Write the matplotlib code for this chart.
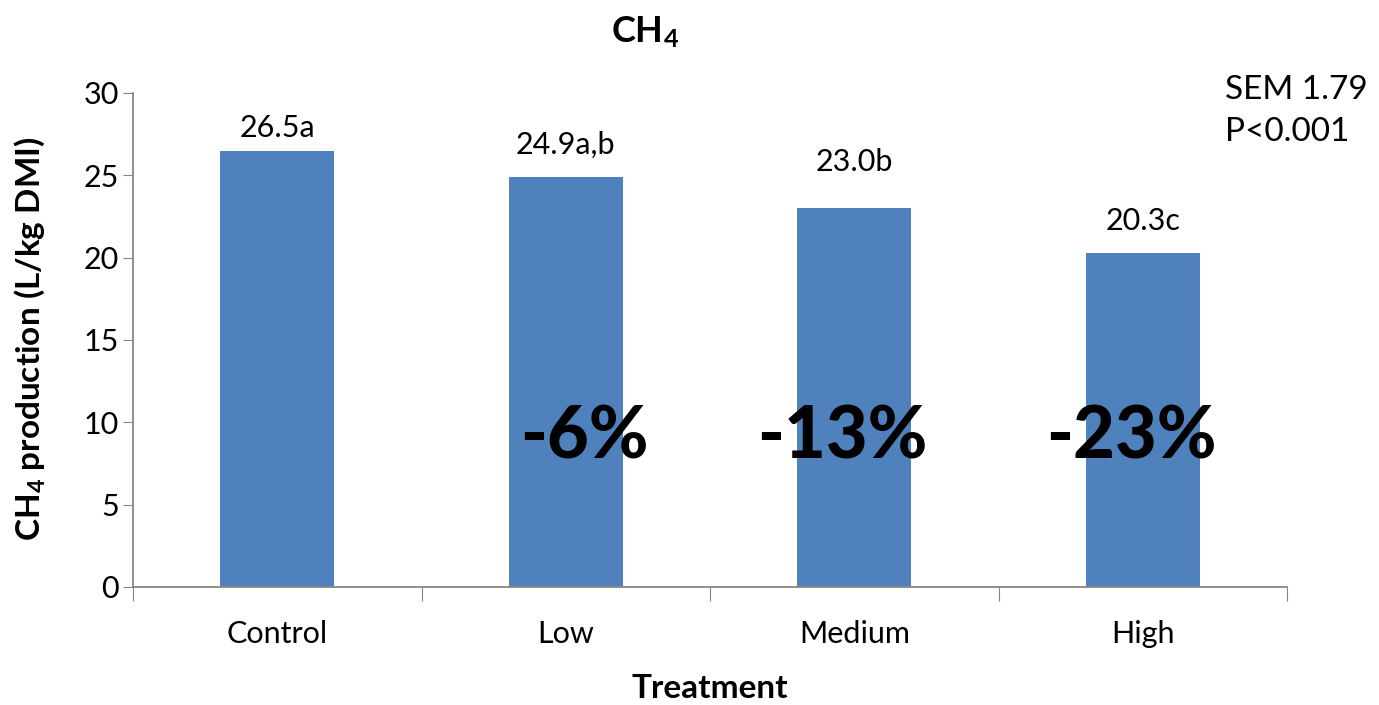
import matplotlib
matplotlib.use("Agg")
from matplotlib import pyplot as plt
import numpy as np

# CH4 production per treatment
treatments = ["Control", "Low", "Medium", "High"]
ch4 = [26.5, 24.9, 23.0, 20.3]
letters = ["a", "a,b", "b", "c"]
reductions = ["", "-6%", "-13%", "-23%"]
yticks = [0, 5, 10, 15, 20, 25, 30]

plt.rcParams["font.family"] = ["Lato", "DejaVu Sans"]
plt.rcParams["mathtext.default"] = "regular"

barColor = "#4F81BD"
axisColor = "#868686"

fig = plt.figure(figsize=(13.79, 7.05), dpi=100)
ax = fig.add_axes([0.0965, 0.1674, 0.8368, 0.7007])

x = np.arange(len(treatments))
ax.bar(x, ch4, width=0.395, color=barColor, zorder=2)

ax.set_xlim(-0.5, len(treatments) - 0.5)
ax.set_ylim(0, 30)
ax.set_yticks(yticks)
ax.tick_params(axis="y", labelsize=22, length=7, color=axisColor, pad=3)

# category ticks sit between the bars, labels centred under them
ax.set_xticks(np.arange(len(treatments) + 1) - 0.5)
ax.set_xticklabels([])
ax.set_xticks(x, minor=True)
ax.set_xticklabels(treatments, minor=True, fontsize=22)
ax.tick_params(axis="x", which="major", length=10, color=axisColor)
ax.tick_params(axis="x", which="minor", length=0, pad=24)

for side in ["top", "right"]:
	ax.spines[side].set_visible(False)
for side in ["left", "bottom"]:
	ax.spines[side].set_color(axisColor)
	ax.spines[side].set_linewidth(1.3)

# value labels with significance letters
offsets = [10, 16.5, 26.5, 16]
for i in range(len(ch4)):
	ax.annotate("%.1f%s" % (ch4[i], letters[i]), xy=(x[i], ch4[i]), xytext=(0, offsets[i]),
		textcoords="offset points", ha="center", va="baseline", fontsize=22)

# percentage reduction vs control
shifts = [0, 0.065, -0.04, -0.04]
for i in range(len(ch4)):
	if reductions[i]:
		ax.text(x[i] + shifts[i], 9.05, reductions[i], ha="center", va="center",
			fontsize=52, fontweight="black", zorder=3)

fig.text(0.4677, 0.955, "CH$_4$", ha="center", va="center", fontsize=26, fontweight="bold")
fig.text(0.888, 0.843, "SEM 1.79\nP<0.001", ha="left", va="center", fontsize=24, linespacing=1.5)
fig.text(0.022, 0.52, "CH$_4$ production (L/kg DMI)", rotation=90, ha="center", va="center",
	fontsize=24, fontweight="bold")
fig.text(0.515, 0.024, "Treatment", ha="center", va="center", fontsize=24, fontweight="bold")

fig.savefig("out.png", dpi=100)
